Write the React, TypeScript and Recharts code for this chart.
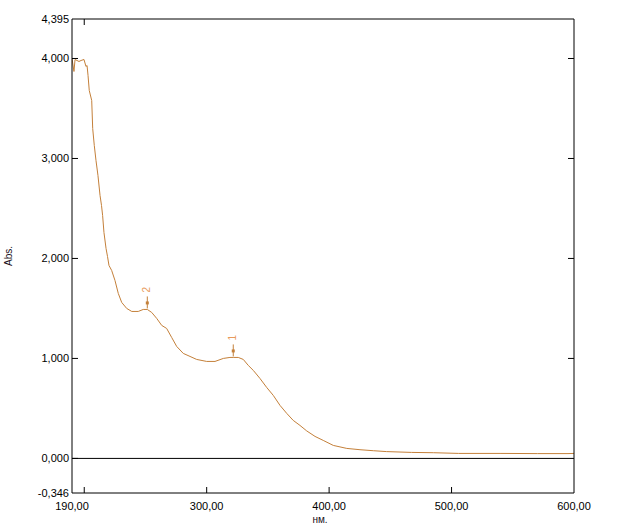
import { LineChart, Line, XAxis, YAxis, ReferenceLine, ReferenceDot } from 'recharts';

// wavelength (nm) and absorbance
const wavelength = [
  190.0, 191.6, 192.5, 194.1, 195.7, 197.4, 199.8, 201.4, 202.3, 203.1,
  204.1, 206.1, 206.9, 208.2, 209.6, 211.2, 212.9, 214.1, 215.0, 216.1,
  217.8, 219.0, 220.2, 222.4, 225.1, 227.8, 230.6, 234.7, 238.8, 244.1,
  248.2, 251.5, 255.1, 259.2, 263.3, 267.3, 271.4, 275.5, 280.9, 286.4,
  291.8, 300.0, 306.8, 313.6, 319.0, 321.7, 325.8, 329.9, 334.0, 338.1,
  343.5, 349.0, 354.4, 359.9, 365.4, 370.7, 376.2, 381.7, 388.5, 395.2,
  403.4, 414.4, 425.2, 436.1, 447.0, 467.4, 485.1, 505.8, 539.6, 570.0,
  595.1, 600.0,
];
const absorbance = [
  4.00, 3.87, 3.99, 3.98, 3.97, 3.98, 3.99, 3.92, 3.93, 3.83,
  3.68, 3.58, 3.30, 3.13, 2.98, 2.83, 2.63, 2.53, 2.43, 2.26,
  2.10, 2.02, 1.93, 1.88, 1.78, 1.65, 1.56, 1.50, 1.47, 1.47,
  1.49, 1.49, 1.46, 1.40, 1.33, 1.30, 1.21, 1.12, 1.05, 1.02,
  0.99, 0.97, 0.97, 1.00, 1.01, 1.01, 1.01, 0.99, 0.93, 0.88,
  0.80, 0.71, 0.63, 0.53, 0.45, 0.38, 0.33, 0.275, 0.22, 0.18,
  0.13, 0.10, 0.087, 0.077, 0.068, 0.060, 0.057, 0.050, 0.050, 0.048,
  0.048, 0.050,
];

// picked peaks
const peakNm = [321.7, 251.5];
const peakAbs = [1.01, 1.49];
const peakLabels = ['1', '2'];

const xTicks = [190, 200, 300, 400, 500, 600];
const yTicks = [-0.346, 0, 1, 2, 3, 4, 4.395];
const X_MIN = 190;
const X_MAX = 600;
const Y_MIN = -0.346;
const Y_MAX = 4.395;

const data = wavelength.map((nm, i) => ({ nm, abs: absorbance[i] }));

const LINE_COLOR = '#c4803a';
const FONT = 'Liberation Sans, Arial, sans-serif';

const fmt = (v: number, d: number) => v.toFixed(d).replace('.', ',');

const LeftTick = ({ x, y, payload }: any) => {
  const v = payload.value;
  const inner = v > Y_MIN && v < Y_MAX;
  return (
    <g>
      <text x={x - 3} y={y} dy={4} textAnchor="end" fontSize={11} fontFamily={FONT} fill="#000">
        {fmt(v, 3)}
      </text>
      {inner && <line x1={x} x2={x + 6} y1={y} y2={y} stroke="#000" />}
    </g>
  );
};

const RightTick = ({ x, y }: any) => <line x1={x - 6} x2={x} y1={y} y2={y} stroke="#000" />;

const BottomTick = ({ x, y, payload }: any) => {
  const v = payload.value;
  const inner = v > X_MIN && v < X_MAX;
  return (
    <g>
      {v !== 200 && (
        <text x={x} y={y + 17} textAnchor="middle" fontSize={11} fontFamily={FONT} fill="#000">
          {fmt(v, 2)}
        </text>
      )}
      {inner && <line x1={x} x2={x} y1={y} y2={y - 6} stroke="#000" />}
    </g>
  );
};

const TopTick = ({ x, y }: any) => <line x1={x} x2={x} y1={y} y2={y + 6} stroke="#000" />;

const PeakMark = ({ cx, cy, label }: any) => (
  <g>
    <line x1={cx} x2={cx} y1={cy - 13} y2={cy - 1} stroke={LINE_COLOR} />
    <rect x={cx - 1.5} y={cy - 8} width={3} height={3} fill={LINE_COLOR} />
    <text
      x={cx + 3}
      y={cy - 17}
      transform={`rotate(-90 ${cx + 3} ${cy - 17})`}
      fontSize={10}
      fontFamily={FONT}
      fill="#e89a5c"
    >
      {label}
    </text>
  </g>
);

export default function App() {
  return (
    <div style={{ position: 'absolute', left: 0, top: 0, width: 642, height: 526, background: '#fff' }}>
      <LineChart
        width={642}
        height={526}
        data={data}
        margin={{ top: 9, right: 58, bottom: 3, left: 12 }}
      >
        <XAxis
          xAxisId="b"
          dataKey="nm"
          type="number"
          domain={[X_MIN, X_MAX]}
          ticks={xTicks}
          allowDataOverflow
          height={30}
          tickSize={0}
          tickMargin={0}
          tickLine={false}
          axisLine={{ stroke: '#000' }}
          tick={<BottomTick />}
          interval={0}
        />
        <XAxis
          xAxisId="t"
          orientation="top"
          dataKey="nm"
          type="number"
          domain={[X_MIN, X_MAX]}
          ticks={[200]}
          allowDataOverflow
          height={10}
          tickSize={0}
          tickMargin={0}
          tickLine={false}
          axisLine={{ stroke: '#000' }}
          tick={<TopTick />}
          interval={0}
        />
        <YAxis
          yAxisId="l"
          type="number"
          domain={[Y_MIN, Y_MAX]}
          ticks={yTicks}
          allowDataOverflow
          width={60}
          tickSize={0}
          tickMargin={0}
          tickLine={false}
          axisLine={{ stroke: '#000' }}
          tick={<LeftTick />}
          interval={0}
        />
        <YAxis
          yAxisId="r"
          orientation="right"
          type="number"
          domain={[Y_MIN, Y_MAX]}
          ticks={[1, 2, 3, 4]}
          allowDataOverflow
          width={10}
          tickSize={0}
          tickMargin={0}
          tickLine={false}
          axisLine={{ stroke: '#000' }}
          tick={<RightTick />}
          interval={0}
        />
        <ReferenceLine xAxisId="b" yAxisId="l" y={0} stroke="#000" strokeWidth={1} />
        <Line
          xAxisId="b"
          yAxisId="l"
          type="linear"
          dataKey="abs"
          stroke={LINE_COLOR}
          strokeWidth={1}
          dot={false}
          activeDot={false}
          isAnimationActive={false}
        />
        {peakNm.map((nm, i) => (
          <ReferenceDot
            key={peakLabels[i]}
            xAxisId="b"
            yAxisId="l"
            x={nm}
            y={peakAbs[i]}
            r={0}
            shape={(p: any) => <PeakMark cx={p.cx} cy={p.cy} label={peakLabels[i]} />}
          />
        ))}
      </LineChart>
      <div
        style={{
          position: 'absolute',
          left: 8,
          top: 256,
          transform: 'translate(-50%, -50%) rotate(-90deg)',
          fontFamily: FONT,
          fontSize: 10,
          color: '#1a1020',
          whiteSpace: 'nowrap',
        }}
      >
        Abs.
      </div>
      <div
        style={{
          position: 'absolute',
          left: 320,
          top: 519,
          transform: 'translate(-50%, -50%)',
          fontFamily: FONT,
          fontSize: 10,
          color: '#1a1020',
          whiteSpace: 'nowrap',
        }}
      >
        нм.
      </div>
    </div>
  );
}
